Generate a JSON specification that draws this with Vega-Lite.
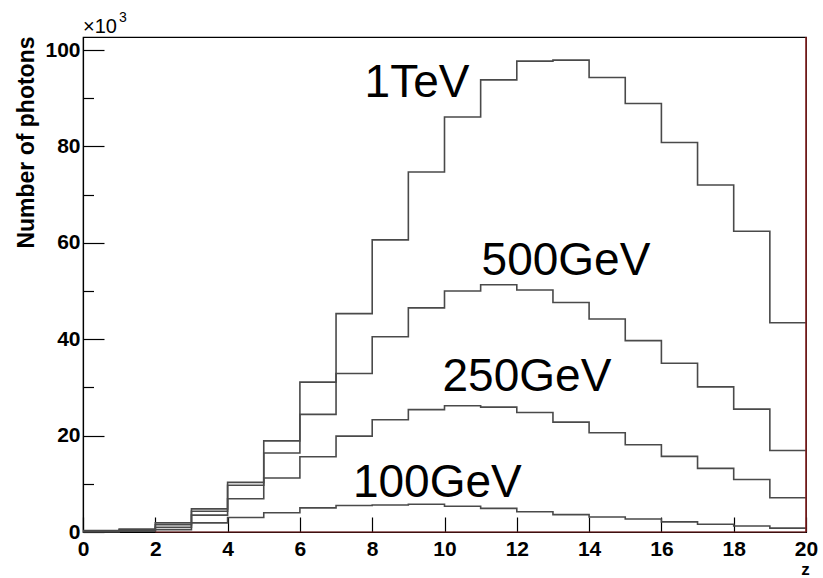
{
  "$schema": "https://vega.github.io/schema/vega-lite/v6.json",
  "width": 723,
  "height": 495,
  "autosize": {"type": "none"},
  "padding": {"left": 83, "top": 37, "right": 17, "bottom": 46},
  "background": "white",
  "config": {"view": {"stroke": "black", "strokeWidth": 1.2}},
  "datasets": {
    "hist": [
      {"series": "1TeV", "z": 0, "n": 0.3}, {"series": "1TeV", "z": 1, "n": 0.6}, {"series": "1TeV", "z": 2, "n": 1.9}, {"series": "1TeV", "z": 3, "n": 4.8},
      {"series": "1TeV", "z": 4, "n": 10.3}, {"series": "1TeV", "z": 5, "n": 18.9}, {"series": "1TeV", "z": 6, "n": 31.1}, {"series": "1TeV", "z": 7, "n": 45.3},
      {"series": "1TeV", "z": 8, "n": 60.6}, {"series": "1TeV", "z": 9, "n": 74.7}, {"series": "1TeV", "z": 10, "n": 86.1}, {"series": "1TeV", "z": 11, "n": 93.8},
      {"series": "1TeV", "z": 12, "n": 97.7}, {"series": "1TeV", "z": 13, "n": 97.9}, {"series": "1TeV", "z": 14, "n": 94.3}, {"series": "1TeV", "z": 15, "n": 88.9},
      {"series": "1TeV", "z": 16, "n": 80.8}, {"series": "1TeV", "z": 17, "n": 72.0}, {"series": "1TeV", "z": 18, "n": 62.4}, {"series": "1TeV", "z": 19, "n": 43.4},
      {"series": "1TeV", "z": 20, "n": 43.4},
      {"series": "500GeV", "z": 0, "n": 0.2}, {"series": "500GeV", "z": 1, "n": 0.4}, {"series": "500GeV", "z": 2, "n": 1.5}, {"series": "500GeV", "z": 3, "n": 4.3},
      {"series": "500GeV", "z": 4, "n": 9.7}, {"series": "500GeV", "z": 5, "n": 16.4}, {"series": "500GeV", "z": 6, "n": 24.4}, {"series": "500GeV", "z": 7, "n": 32.9},
      {"series": "500GeV", "z": 8, "n": 40.5}, {"series": "500GeV", "z": 9, "n": 46.5}, {"series": "500GeV", "z": 10, "n": 50.0}, {"series": "500GeV", "z": 11, "n": 51.3},
      {"series": "500GeV", "z": 12, "n": 50.2}, {"series": "500GeV", "z": 13, "n": 47.6}, {"series": "500GeV", "z": 14, "n": 44.2}, {"series": "500GeV", "z": 15, "n": 39.7},
      {"series": "500GeV", "z": 16, "n": 35.0}, {"series": "500GeV", "z": 17, "n": 30.1}, {"series": "500GeV", "z": 18, "n": 25.5}, {"series": "500GeV", "z": 19, "n": 16.9},
      {"series": "500GeV", "z": 20, "n": 16.9},
      {"series": "250GeV", "z": 0, "n": 0.1}, {"series": "250GeV", "z": 1, "n": 0.3}, {"series": "250GeV", "z": 2, "n": 1.0}, {"series": "250GeV", "z": 3, "n": 3.5},
      {"series": "250GeV", "z": 4, "n": 6.9}, {"series": "250GeV", "z": 5, "n": 11.2}, {"series": "250GeV", "z": 6, "n": 15.6}, {"series": "250GeV", "z": 7, "n": 19.9},
      {"series": "250GeV", "z": 8, "n": 23.3}, {"series": "250GeV", "z": 9, "n": 25.4}, {"series": "250GeV", "z": 10, "n": 26.2}, {"series": "250GeV", "z": 11, "n": 25.9},
      {"series": "250GeV", "z": 12, "n": 24.8}, {"series": "250GeV", "z": 13, "n": 22.8}, {"series": "250GeV", "z": 14, "n": 20.6}, {"series": "250GeV", "z": 15, "n": 18.1},
      {"series": "250GeV", "z": 16, "n": 15.7}, {"series": "250GeV", "z": 17, "n": 13.2}, {"series": "250GeV", "z": 18, "n": 10.9}, {"series": "250GeV", "z": 19, "n": 7.1},
      {"series": "250GeV", "z": 20, "n": 7.1},
      {"series": "100GeV", "z": 0, "n": 0.05}, {"series": "100GeV", "z": 1, "n": 0.15}, {"series": "100GeV", "z": 2, "n": 0.5}, {"series": "100GeV", "z": 3, "n": 1.9},
      {"series": "100GeV", "z": 4, "n": 3.0}, {"series": "100GeV", "z": 5, "n": 4.0}, {"series": "100GeV", "z": 6, "n": 5.0}, {"series": "100GeV", "z": 7, "n": 5.5},
      {"series": "100GeV", "z": 8, "n": 5.6}, {"series": "100GeV", "z": 9, "n": 5.75}, {"series": "100GeV", "z": 10, "n": 5.35}, {"series": "100GeV", "z": 11, "n": 4.9},
      {"series": "100GeV", "z": 12, "n": 4.2}, {"series": "100GeV", "z": 13, "n": 3.6}, {"series": "100GeV", "z": 14, "n": 3.1}, {"series": "100GeV", "z": 15, "n": 2.7},
      {"series": "100GeV", "z": 16, "n": 2.1}, {"series": "100GeV", "z": 17, "n": 1.6}, {"series": "100GeV", "z": 18, "n": 1.25}, {"series": "100GeV", "z": 19, "n": 0.8},
      {"series": "100GeV", "z": 20, "n": 0.8}
    ],
    "labels": [
      {"label": "1TeV", "z": 9.24, "n": 90.2},
      {"label": "500GeV", "z": 13.36, "n": 53.4},
      {"label": "250GeV", "z": 12.28, "n": 29.2},
      {"label": "100GeV", "z": 9.8, "n": 7.3}
    ],
    "one": [{"k": 1}]
  },
  "layer": [
    {
      "data": {"name": "hist"},
      "mark": {"type": "line", "interpolate": "step-after", "color": "#4a4a4a", "strokeWidth": 1.6},
      "encoding": {
        "x": {
          "field": "z", "type": "quantitative",
          "scale": {"domain": [0, 20], "nice": false, "zero": false},
          "axis": {
            "title": "z",
            "values": [0,0.5,1,1.5,2,2.5,3,3.5,4,4.5,5,5.5,6,6.5,7,7.5,8,8.5,9,9.5,10,10.5,11,11.5,12,12.5,13,13.5,14,14.5,15,15.5,16,16.5,17,17.5,18,18.5,19,19.5,20],
            "labelExpr": "datum.value % 2 === 0 ? datum.label : ''",
            "tickSize": {"condition": {"test": "datum.value % 2 === 0", "value": -15}, "value": -7.5},
            "tickColor": "black", "tickWidth": 1.2,
            "domainColor": "black", "domainWidth": 1.2,
            "grid": false,
            "labelFont": "Liberation Sans", "labelFontWeight": "bold", "labelFontSize": 21, "labelColor": "black",
            "labelPadding": 21, "labelOverlap": false, "labelFlush": false,
            "titleFont": "Liberation Sans", "titleFontWeight": "bold", "titleFontSize": 17, "titleColor": "black",
            "titleX": 722, "titleY": 46, "titleAlign": "center", "titleBaseline": "bottom"
          }
        },
        "y": {
          "field": "n", "type": "quantitative",
          "scale": {"domain": [0, 102.7], "nice": false},
          "axis": {
            "title": "Number of photons",
            "values": [0,5,10,15,20,25,30,35,40,45,50,55,60,65,70,75,80,85,90,95,100],
            "labelExpr": "datum.value % 20 === 0 ? datum.label : ''",
            "tickSize": {"condition": {"test": "datum.value % 20 === 0", "value": -21}, "value": -10.5},
            "tickColor": "black", "tickWidth": 1.2,
            "domainColor": "black", "domainWidth": 1.2,
            "grid": false,
            "labelFont": "Liberation Sans", "labelFontWeight": "bold", "labelFontSize": 21, "labelColor": "black",
            "labelPadding": 24, "labelOverlap": false, "labelFlush": false,
            "titleFont": "Liberation Sans", "titleFontWeight": "bold", "titleFontSize": 23, "titleColor": "black",
            "titleX": -50, "titleY": -1, "titleAngle": -90, "titleAlign": "right", "titleBaseline": "alphabetic"
          }
        },
        "detail": {"field": "series"}
      }
    },
    {
      "data": {"name": "one"},
      "mark": {"type": "rule", "color": "#8b1c1c", "strokeWidth": 1.4},
      "encoding": {"x": {"datum": 20}, "y": {"datum": 0}, "y2": {"datum": 102.7}}
    },
    {
      "data": {"name": "one"},
      "mark": {"type": "rule", "color": "#7a1e1e", "strokeWidth": 1.2},
      "encoding": {"x": {"datum": 2}, "x2": {"datum": 20}, "y": {"datum": 0}}
    },
    {
      "data": {"name": "one"},
      "mark": {"type": "text", "align": "left", "baseline": "alphabetic", "dy": -4, "font": "Liberation Sans", "fontSize": 20, "color": "black"},
      "encoding": {"x": {"datum": 0}, "y": {"datum": 102.7}, "text": {"value": "×10"}}
    },
    {
      "data": {"name": "one"},
      "mark": {"type": "text", "align": "left", "baseline": "alphabetic", "dx": 36, "dy": -15, "font": "Liberation Sans", "fontSize": 14, "color": "black"},
      "encoding": {"x": {"datum": 0}, "y": {"datum": 102.7}, "text": {"value": "3"}}
    },
    {
      "data": {"name": "labels"},
      "mark": {"type": "text", "align": "center", "baseline": "alphabetic", "font": "Liberation Sans", "fontSize": 46, "color": "black"},
      "encoding": {
        "x": {"field": "z", "type": "quantitative"},
        "y": {"field": "n", "type": "quantitative"},
        "text": {"field": "label"}
      }
    }
  ]
}
